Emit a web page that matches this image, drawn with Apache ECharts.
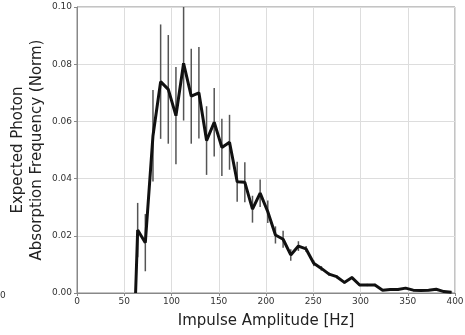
<!DOCTYPE html>
<html><head><meta charset="utf-8">
<script src="https://cdn.jsdelivr.net/npm/echarts@6/dist/echarts.min.js"></script>
<style>html,body{margin:0;padding:0;background:#fff}#c{width:465px;height:335px}</style>
</head><body><div id="c"></div>
<script>
const amplitudes = [62, 64.2, 72.3, 80.4, 88.5, 96.6, 104.7, 112.8, 120.9, 129.0, 137.1, 145.2, 153.3, 161.4, 169.5, 177.6, 185.7, 193.8, 201.9, 210.0, 218.1, 226.2, 234.3, 242.4, 250.5, 258.6, 266.7, 274.8, 282.9, 291.0, 299.1, 307.2, 315.3, 323.4, 331.5, 339.6, 347.7, 355.8, 363.9, 372.0, 380.1, 388.2, 396.3];
const frequencies = [0, 0.022, 0.0176, 0.055, 0.0739, 0.0712, 0.062, 0.0803, 0.0688, 0.0700, 0.0533, 0.0597, 0.0509, 0.0527, 0.0389, 0.0387, 0.0293, 0.0349, 0.0284, 0.0203, 0.0188, 0.0133, 0.0164, 0.0154, 0.0104, 0.0086, 0.0066, 0.0057, 0.0037, 0.0054, 0.0028, 0.0028, 0.0028, 0.0010, 0.0012, 0.0012, 0.0017, 0.0010, 0.0009, 0.0010, 0.0013, 0.0005, 0.0003];
const errors = [0, 0.0095, 0.010, 0.016, 0.020, 0.019, 0.017, 0.020, 0.0166, 0.016, 0.012, 0.012, 0.010, 0.0096, 0.007, 0.007, 0.0047, 0.0048, 0.0039, 0.003, 0.003, 0.002, 0.0017, 0.001, 0.001, 0.0008, 0.0006, 0.0005, 0.0005, 0.0005, 0.0004, 0.0004, 0.0004, 0.0003, 0.0003, 0.0003, 0.0003, 0.0003, 0.0003, 0.0003, 0.0003, 0.0002, 0.0002];
const xTicks = [0, 50, 100, 150, 200, 250, 300, 350, 400];
const yTicks = [0, 0.02, 0.04, 0.06, 0.08, 0.10];

const lineData = amplitudes.map((x, i) => [x, frequencies[i]]);
const errData = amplitudes.map((x, i) => [x, frequencies[i] - errors[i], frequencies[i] + errors[i]]);

const chart = echarts.init(document.getElementById('c'), null, {renderer: 'canvas'});
const font = 'DejaVu Sans';
chart.setOption({
  animation: false,
  grid: {left: 77, top: 7, right: 10, bottom: 42, show: true, borderColor: '#888', borderWidth: 1, containLabel: false, outerBoundsMode: 'none'},
  xAxis: {
    type: 'value', min: 0, max: 400, interval: 50,
    name: 'Impulse Amplitude [Hz]', nameLocation: 'middle', nameGap: 21,
    nameTextStyle: {fontFamily: font, fontSize: 15, color: '#222'},
    axisLine: {lineStyle: {color: '#888'}},
    axisTick: {show: true, length: 3, lineStyle: {color: '#888'}},
    axisLabel: {fontFamily: font, fontSize: 9, color: '#333', margin: 4, formatter: v => xTicks.includes(v) ? String(v) : ''},
    splitLine: {show: true, lineStyle: {color: '#ddd', width: 1}}
  },
  yAxis: {
    type: 'value', min: 0, max: 0.1, interval: 0.02,
    axisLine: {show: true, lineStyle: {color: '#888'}},
    axisTick: {show: true, length: 3, lineStyle: {color: '#888'}},
    axisLabel: {fontFamily: font, fontSize: 9, color: '#333', margin: 5, formatter: v => v.toFixed(2)},
    splitLine: {show: true, lineStyle: {color: '#ddd', width: 1}}
  },
  graphic: [
    {type: 'text', left: 0, top: 291, style: {text: '0', fontFamily: font, fontSize: 9, fill: '#333'}},
    {type: 'text', x: 18, y: 150, rotation: Math.PI / 2, style: {text: 'Expected Photon', fontFamily: font, fontSize: 15, fill: '#222', align: 'center', verticalAlign: 'middle'}},
    {type: 'text', x: 37, y: 150, rotation: Math.PI / 2, style: {text: 'Absorption Frequency (Norm)', fontFamily: font, fontSize: 15, fill: '#222', align: 'center', verticalAlign: 'middle'}}
  ],
  series: [
    {
      type: 'custom', clip: true, data: errData, z: 2,
      renderItem: (params, api) => {
        const p1 = api.coord([api.value(0), api.value(1)]);
        const p2 = api.coord([api.value(0), api.value(2)]);
        return {type: 'line', shape: {x1: p1[0], y1: p1[1], x2: p2[0], y2: p2[1]}, style: {stroke: '#555', lineWidth: 1.5}};
      }
    },
    {
      type: 'line', data: lineData, showSymbol: false, symbol: 'none', z: 3,
      lineStyle: {color: '#111', width: 3}
    }
  ]
});
</script></body></html>
